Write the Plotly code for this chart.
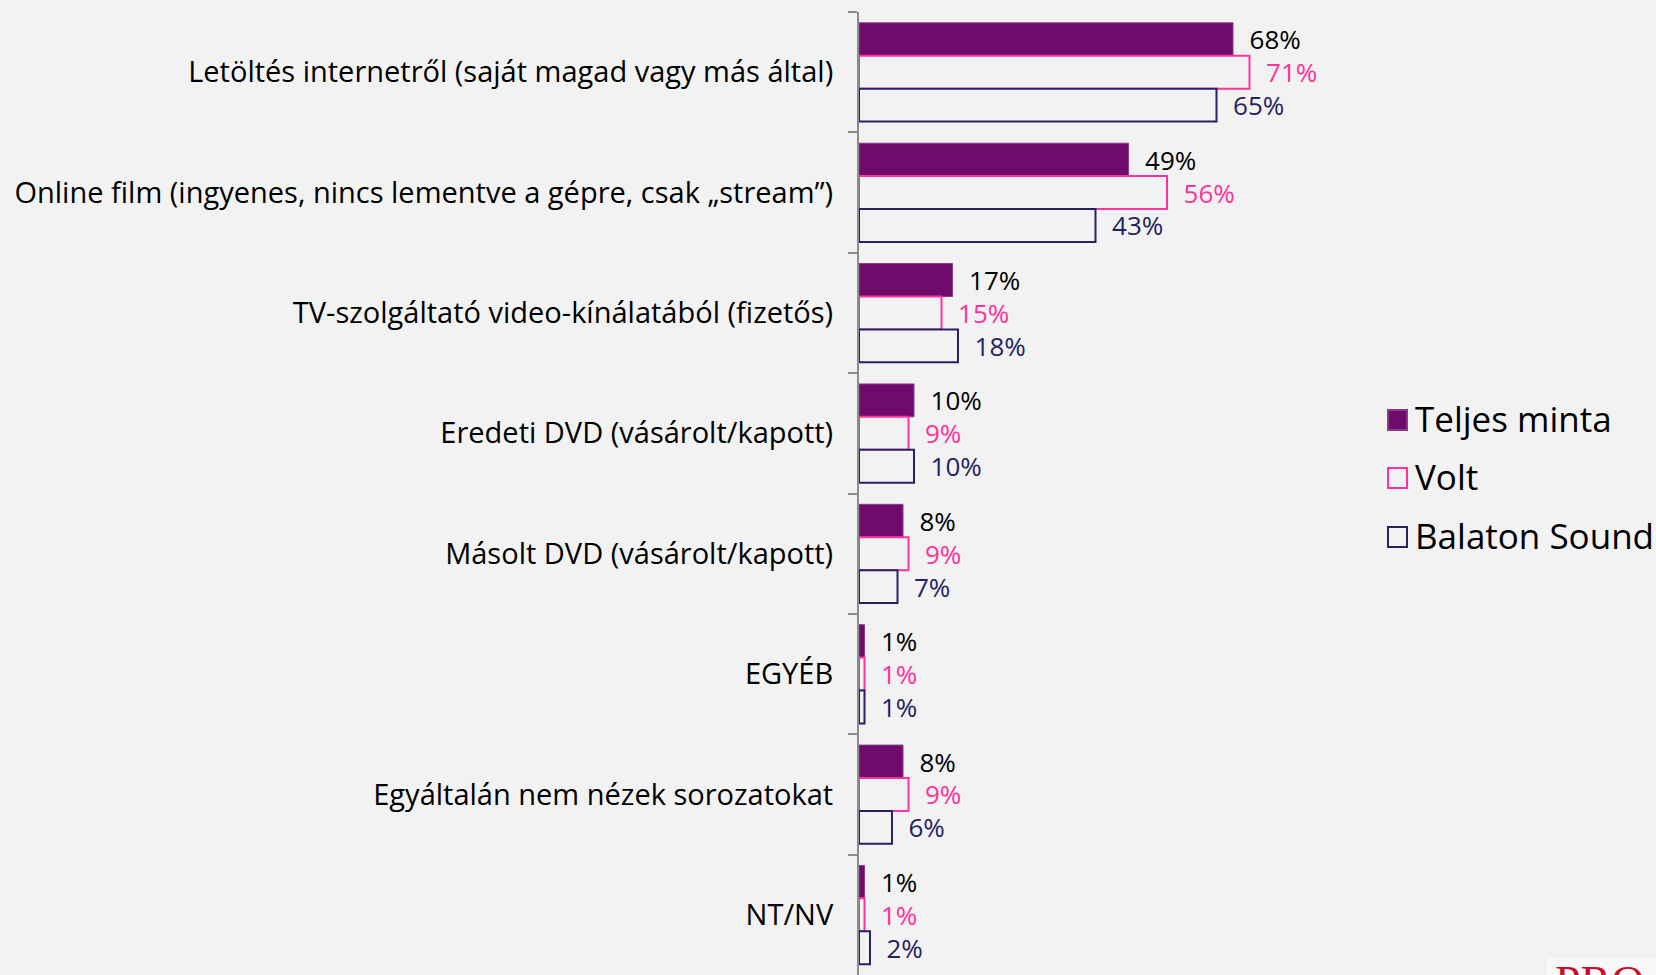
import plotly.graph_objects as go

categories = [
    "Letöltés internetről (saját magad vagy más által)",
    "Online film (ingyenes, nincs lementve a gépre, csak „stream”)",
    "TV-szolgáltató video-kínálatából (fizetős)",
    "Eredeti DVD (vásárolt/kapott)",
    "Másolt DVD (vásárolt/kapott)",
    "EGYÉB",
    "Egyáltalán nem nézek sorozatokat",
    "NT/NV",
]
series_names = ["Teljes minta", "Volt", "Balaton Sound"]
teljes = [68, 49, 17, 10, 8, 1, 8, 1]
volt = [71, 56, 15, 9, 9, 1, 9, 1]
balaton = [65, 43, 18, 10, 7, 1, 6, 2]

BG = "#f2f2f2"
FONT = "Open Sans"
styles = [
    dict(fill="#6e0b6b", line="#8a3a87", lw=1, text="#000000"),
    dict(fill=BG, line="#ff3399", lw=2, text="#ff3399"),
    dict(fill=BG, line="#262262", lw=2, text="#262262"),
]

W, H = 1656, 975
ML, MR, MT, MB = 859, 250, 12, 0
PW = W - ML - MR
PH = H - MT - MB
PX_PER_PCT = 5.5

fig = go.Figure()
for name, vals, st in zip(series_names, [teljes, volt, balaton], styles):
    fig.add_trace(go.Bar(
        y=categories, x=vals, orientation="h", name=name,
        marker=dict(color=st["fill"], line=dict(color=st["line"], width=st["lw"])),
        text=[f"\u00a0\u00a0{v}%" for v in vals],
        textposition="outside", constraintext="none", cliponaxis=False,
        textfont=dict(family=FONT, size=26, color=st["text"]),
        showlegend=False, hoverinfo="skip",
    ))

# custom legend
def py2paper(py):
    return (H - MB - py) / PH
def px2paper(px):
    return (px - ML) / PW

leg_y = [420, 478, 537]
for name, st, yc in zip(series_names, styles, leg_y):
    fig.add_shape(type="rect", xref="paper", yref="paper",
                  x0=px2paper(1388), x1=px2paper(1407),
                  y0=py2paper(yc + 10), y1=py2paper(yc - 10),
                  fillcolor=st["fill"], line=dict(color=st["line"], width=2))
    fig.add_annotation(text=name, xref="paper", yref="paper",
                       x=px2paper(1413), y=py2paper(yc - 2), xanchor="left", yanchor="middle",
                       showarrow=False, font=dict(family=FONT, size=35, color="#000000"))

# partial logo at bottom right
fig.add_shape(type="rect", xref="paper", yref="paper",
              x0=px2paper(1547), x1=px2paper(1660), y0=py2paper(980), y1=py2paper(958),
              fillcolor="#f9f9f9", line=dict(width=0), layer="below")
fig.add_annotation(text="PRO", xref="paper", yref="paper", x=px2paper(1553), y=py2paper(955),
                   xanchor="left", yanchor="top", showarrow=False,
                   font=dict(family="Liberation Serif", size=46, color="#c8102e"))

fig.update_layout(
    width=W, height=H,
    margin=dict(l=ML, r=MR, t=MT, b=MB, pad=0),
    paper_bgcolor=BG, plot_bgcolor=BG,
    barmode="group", bargap=0.18, bargroupgap=0,
    showlegend=False,
    font=dict(family=FONT, color="#000000"),
)
fig.update_xaxes(range=[0, PW / PX_PER_PCT], visible=False, showgrid=False, zeroline=False)
fig.update_yaxes(
    autorange="reversed", showline=True, linecolor="#8c8c8c", linewidth=2,
    ticks="outside", tickson="boundaries", ticklen=9, tickcolor="#8c8c8c", tickwidth=2,
    ticklabelstandoff=18, showgrid=False,
    tickfont=dict(family=FONT, size=29, color="#000000"),
)

fig.write_html("out.html", config={"displayModeBar": False},
               post_script="document.body.style.margin='0';document.body.style.overflow='hidden';")
